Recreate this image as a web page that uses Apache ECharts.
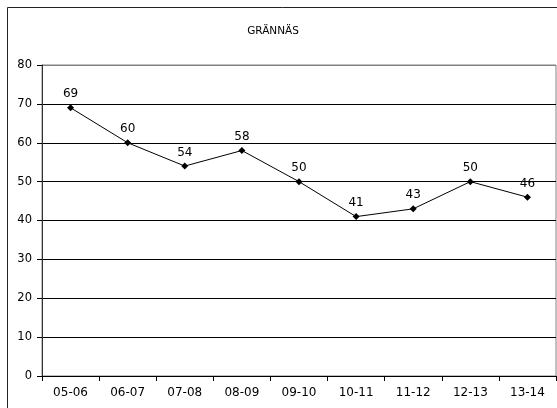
<!DOCTYPE html>
<html><head><meta charset="utf-8">
<script src="https://cdn.jsdelivr.net/npm/echarts@6/dist/echarts.min.js"></script>
<style>html,body{margin:0;padding:0;background:#fff}#c{width:557px;height:408px}</style>
</head><body><div id="c"></div>
<script>
var categories = ['05-06','06-07','07-08','08-09','09-10','10-11','11-12','12-13','13-14'];
var values = [69,60,54,58,50,41,43,50,46];
var yTicks = [0,10,20,30,40,50,60,70,80];
var titleText = 'GRÄNNÄS';

var chart = echarts.init(document.getElementById('c'));
var font = 'DejaVu Sans, Verdana, sans-serif';
chart.setOption({
  animation: false,
  backgroundColor: '#fff',
  graphic: [{type:'rect', shape:{x:7.5,y:7.5,width:600,height:500}, style:{fill:'none',stroke:'#222',lineWidth:1}, z:-1}],
  title: {text: titleText, left: 268, top: 21, textAlign: 'center',
    textStyle:{fontFamily: font, fontSize: 10.5, fontWeight:'normal', color:'#000'}},
  grid: {left: 42, right: 1, top: 65, bottom: 32, show: true, borderColor: '#808080', borderWidth: 1},
  xAxis: {type:'category', data: categories, boundaryGap: true,
    axisLine:{lineStyle:{color:'#000', width:1}},
    axisTick:{show:true, inside:false, length:5, alignWithLabel:false, lineStyle:{color:'#000'}},
    axisLabel:{fontFamily: font, fontSize: 12, color:'#000', margin: 11}},
  yAxis: {type:'value', min: yTicks[0], max: yTicks[yTicks.length-1], interval: 10,
    axisLine:{show:true, lineStyle:{color:'#333', width:1}},
    axisTick:{show:true, length:5, lineStyle:{color:'#000'}},
    axisLabel:{fontFamily: font, fontSize: 11.5, color:'#000', margin: 10},
    splitLine:{show:true, lineStyle:{color:['#000','#000','#000','#000','#000','#000','#000','#000','#808080'], width:1}}},
  series: [{type:'line', data: values, symbol:'diamond', symbolSize: 7,
    itemStyle:{color:'#000'}, lineStyle:{color:'#000', width:1},
    label:{show:true, position:'top', distance: 4, fontFamily: font, fontSize: 12, color:'#000'}}]
});
</script></body></html>
